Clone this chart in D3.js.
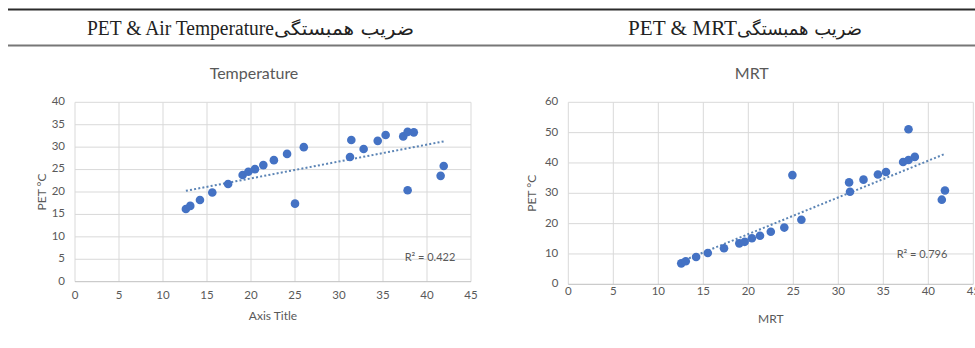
<!DOCTYPE html>
<html><head><meta charset="utf-8">
<script src="https://cdn.jsdelivr.net/npm/d3@7"></script>
<style>body{margin:0;background:#fff}svg{display:block}</style>
</head><body>
<svg id="c" width="975" height="348"></svg>
<script>
// ---- data ----
const airTemp = [12.6,13.1,14.2,15.6,17.4,19.05,19.7,20.45,21.4,22.6,24.1,25.0,26.0,31.25,31.4,32.8,34.4,35.3,37.3,37.8,37.8,38.5,41.55,41.9];
const petVsAir = [16.2,16.9,18.2,19.9,21.8,23.8,24.5,25.1,26.0,27.1,28.5,17.4,30.0,27.8,31.6,29.6,31.4,32.7,32.4,33.4,20.4,33.3,23.6,25.8];
const mrt = [12.55,13.05,14.2,15.5,17.3,19.0,19.6,20.4,21.3,22.5,24.0,24.9,25.9,31.2,31.3,32.8,34.4,35.3,37.2,37.8,37.8,38.5,41.5,41.85];
const petVsMrt = [6.9,7.6,9.0,10.3,11.9,13.5,14.0,15.2,16.0,17.3,18.7,36.0,21.3,33.6,30.5,34.5,36.2,37.0,40.3,41.0,51.1,42.0,27.9,30.9];
const xTicks = [0,5,10,15,20,25,30,35,40,45];
const yTicksLeft = [0,5,10,15,20,25,30,35,40];
const yTicksRight = [0,10,20,30,40,50,60];
const headerEn = ["PET & Air Temperature","PET & MRT"];
const headerFa = "ضریب همبستگی";
const titles = ["Temperature","MRT"];
const xTitles = ["Axis Title","MRT"];
const yTitle = "PET °C";
const r2Labels = ["R² = 0.422","R² = 0.796"];

const svg = d3.select("#c");
const gray = "#595959";
const font = "Lato, 'Open Sans', sans-serif";

// ---- header table ----
svg.append("line").attr("x1",8).attr("x2",975).attr("y1",9.5).attr("y2",9.5).attr("stroke","#2b2b2b").attr("stroke-width",2);
svg.append("line").attr("x1",8).attr("x2",975).attr("y1",45.5).attr("y2",45.5).attr("stroke","#777").attr("stroke-width",2);
const hdr = [{en:headerEn[0], x0:87, mid:274, x1:414},{en:headerEn[1], x0:628, mid:737, x1:862}];
hdr.forEach(h=>{
  svg.append("text").attr("x",h.x0).attr("y",35).attr("font-family","'Liberation Serif', 'Times New Roman', serif")
    .attr("font-size",20).attr("fill","#222").attr("textLength",h.mid-h.x0).attr("lengthAdjust","spacingAndGlyphs").text(h.en);
  svg.append("text").attr("x",h.x1).attr("y",35).attr("text-anchor","end").attr("font-family","'DejaVu Sans', sans-serif")
    .attr("font-size",18).attr("fill","#222").attr("textLength",h.x1-h.mid).attr("lengthAdjust","spacingAndGlyphs").text(headerFa);
});

function chart(cfg){
  const x = d3.scaleLinear().domain([0,45]).range(cfg.xr);
  const y = d3.scaleLinear().domain(cfg.yd).range(cfg.yr);
  const g = svg.append("g");
  // grid
  g.selectAll(".vx").data(xTicks).join("line").attr("x1",d=>x(d)).attr("x2",d=>x(d))
    .attr("y1",cfg.yr[0]).attr("y2",cfg.yr[1]).attr("stroke","#d9d9d9").attr("stroke-width",1);
  g.selectAll(".hy").data(cfg.yt).join("line").attr("x1",cfg.xr[0]).attr("x2",cfg.xr[1])
    .attr("y1",d=>y(d)).attr("y2",d=>y(d)).attr("stroke",d=>d===0?"#bfbfbf":"#d9d9d9").attr("stroke-width",1);
  // tick labels
  g.selectAll(".xl").data(xTicks).join("text").attr("x",d=>x(d)).attr("y",cfg.yr[0]+cfg.xlOff)
    .attr("text-anchor","middle").attr("dominant-baseline","middle").attr("font-family",font).attr("font-size",11.5).attr("fill",gray).text(d=>d);
  g.selectAll(".yl").data(cfg.yt).join("text").attr("x",cfg.xr[0]-10).attr("y",d=>y(d))
    .attr("text-anchor","end").attr("dominant-baseline","middle").attr("font-family",font).attr("font-size",11.5).attr("fill",gray).text(d=>d);
  // titles
  g.append("text").attr("x",(cfg.xr[0]+cfg.xr[1])/2-19).attr("y",75).attr("text-anchor","middle").attr("dominant-baseline","middle")
    .attr("font-family",font).attr("font-size",16).attr("fill",gray).text(cfg.title);
  g.append("text").attr("x",(cfg.xr[0]+cfg.xr[1])/2).attr("y",cfg.xtY).attr("text-anchor","middle").attr("dominant-baseline","middle")
    .attr("font-family",font).attr("font-size",12).attr("fill",gray).text(cfg.xTitle);
  g.append("text").attr("transform",`translate(${cfg.yTx},${(cfg.yr[0]+cfg.yr[1])/2}) rotate(-90)`).attr("text-anchor","middle").attr("dominant-baseline","middle")
    .attr("font-family",font).attr("font-size",12).attr("fill",gray).text(yTitle);
  // trendline (least squares from data)
  const pts = cfg.xs.map((v,i)=>[v,cfg.ys[i]]);
  const mx = d3.mean(pts,p=>p[0]), my = d3.mean(pts,p=>p[1]);
  const b = d3.sum(pts,p=>(p[0]-mx)*(p[1]-my))/d3.sum(pts,p=>(p[0]-mx)**2);
  const a = my-b*mx;
  const [x0,x1] = d3.extent(cfg.xs);
  g.append("line").attr("x1",x(x0)).attr("x2",x(x1)).attr("y1",y(a+b*x0)).attr("y2",y(a+b*x1))
    .attr("stroke","#5b84b5").attr("stroke-width",2).attr("stroke-dasharray","2 2.2");
  // points
  g.selectAll(".pt").data(pts).join("circle").attr("cx",p=>x(p[0])).attr("cy",p=>y(p[1])).attr("r",4.3).attr("fill","#4472c4");
  // R2
  g.append("text").attr("x",cfg.r2[0]).attr("y",cfg.r2[1]).attr("text-anchor","middle").attr("dominant-baseline","middle")
    .attr("font-family",font).attr("font-size",11).attr("fill",gray).text(cfg.r2t);
}

chart({xr:[75,471], yr:[281.7,102.3], yd:[0,40], yt:yTicksLeft, xs:airTemp, ys:petVsAir,
  title:titles[0], xTitle:xTitles[0], xlOff:14, xtY:317, yTx:43, r2:[430,258], r2t:r2Labels[0]});
chart({xr:[568.3,973.3], yr:[284.3,102.3], yd:[0,60], yt:yTicksRight, xs:mrt, ys:petVsMrt,
  title:titles[1], xTitle:xTitles[1], xlOff:8, xtY:320, yTx:533, r2:[922,255], r2t:r2Labels[1]});
</script>
</body></html>
